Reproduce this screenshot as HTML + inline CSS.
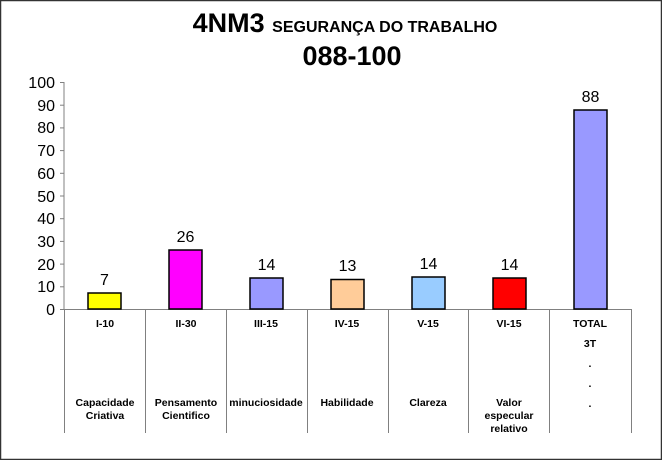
<!DOCTYPE html>
<html><head><meta charset="utf-8"><style>
body{margin:0;width:662px;height:460px;overflow:hidden;background:#fff}
</style></head><body>
<svg width="662" height="460" xmlns="http://www.w3.org/2000/svg" font-family="Liberation Sans, Arial, sans-serif">
<rect x="0.5" y="0.5" width="661" height="459" fill="#fff" stroke="#333" stroke-width="1.5"/>
<text x="345" y="32" text-anchor="middle" font-weight="bold"><tspan font-size="27">4NM3 </tspan><tspan font-size="16">SEGURANÇA DO TRABALHO</tspan></text>
<text x="352" y="65" text-anchor="middle" font-weight="bold" font-size="27">088-100</text>
<g stroke="#808080" stroke-width="1">
<line x1="64" y1="82" x2="64" y2="309"/>
<line x1="60" y1="82.5" x2="64" y2="82.5"/><line x1="60" y1="105.2" x2="64" y2="105.2"/><line x1="60" y1="127.9" x2="64" y2="127.9"/><line x1="60" y1="150.6" x2="64" y2="150.6"/><line x1="60" y1="173.3" x2="64" y2="173.3"/><line x1="60" y1="196" x2="64" y2="196"/><line x1="60" y1="218.7" x2="64" y2="218.7"/><line x1="60" y1="241.4" x2="64" y2="241.4"/><line x1="60" y1="264.1" x2="64" y2="264.1"/><line x1="60" y1="286.8" x2="64" y2="286.8"/>
<line x1="60" y1="309.5" x2="631" y2="309.5"/>
<line x1="64.5" y1="309" x2="64.5" y2="433"/><line x1="145.5" y1="309" x2="145.5" y2="433"/><line x1="226.5" y1="309" x2="226.5" y2="433"/><line x1="307.5" y1="309" x2="307.5" y2="433"/><line x1="388.5" y1="309" x2="388.5" y2="433"/><line x1="468.5" y1="309" x2="468.5" y2="433"/><line x1="549.5" y1="309" x2="549.5" y2="433"/><line x1="631.5" y1="309" x2="631.5" y2="433"/>
</g>
<g font-size="16" text-anchor="end" fill="#000">
<text x="55" y="88">100</text><text x="55" y="111">90</text><text x="55" y="133">80</text><text x="55" y="156">70</text><text x="55" y="179">60</text><text x="55" y="202">50</text><text x="55" y="224">40</text><text x="55" y="247">30</text><text x="55" y="270">20</text><text x="55" y="292">10</text><text x="55" y="315">0</text>
</g>
<g stroke="#000" stroke-width="1.5">
<rect x="88" y="293" width="33" height="16" fill="#ffff00"/>
<rect x="169" y="250" width="33" height="59" fill="#ff00ff"/>
<rect x="250" y="278" width="33" height="31" fill="#9999ff"/>
<rect x="331" y="279.5" width="33" height="29.5" fill="#ffcc99"/>
<rect x="412" y="277" width="33" height="32" fill="#99ccff"/>
<rect x="493" y="278" width="33" height="31" fill="#ff0000"/>
<rect x="574" y="110" width="33" height="199" fill="#9999ff"/>
</g>
<g font-size="16" text-anchor="middle">
<text x="104.5" y="285">7</text><text x="185.5" y="242">26</text><text x="266.5" y="270">14</text><text x="347.5" y="271">13</text><text x="428.5" y="269">14</text><text x="509.5" y="270">14</text><text x="590.5" y="102">88</text>
</g>
<g font-size="10.5" font-weight="bold" text-anchor="middle">
<text x="105" y="327">I-10</text><text x="186" y="327">II-30</text><text x="266" y="327">III-15</text><text x="347" y="327">IV-15</text><text x="428" y="327">V-15</text><text x="509" y="327">VI-15</text><text x="590" y="327">TOTAL</text>
<text x="590" y="347">3T</text><text x="590" y="367">.</text><text x="590" y="387">.</text><text x="590" y="407">.</text>
<text x="105" y="406">Capacidade</text><text x="105" y="419">Criativa</text>
<text x="186" y="406">Pensamento</text><text x="186" y="419">Cientifico</text>
<text x="266" y="406">minuciosidade</text>
<text x="347" y="406">Habilidade</text>
<text x="428" y="406">Clareza</text>
<text x="509" y="406">Valor</text><text x="509" y="419">especular</text><text x="509" y="432">relativo</text>
</g>
</svg>
</body></html>
